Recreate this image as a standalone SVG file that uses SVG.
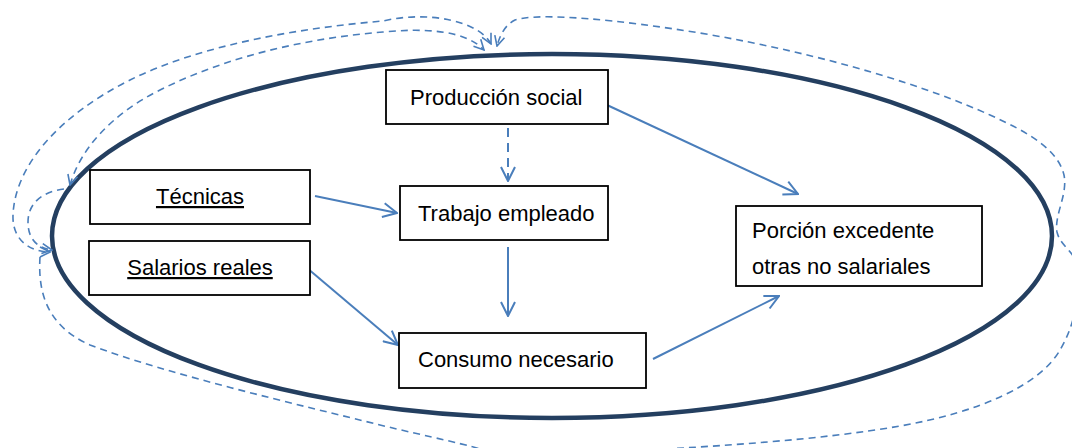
<svg xmlns="http://www.w3.org/2000/svg" width="1072" height="448" viewBox="0 0 1072 448">
<style>
.box{fill:#fff;stroke:#000;stroke-width:1.8}
.t{font-family:"Liberation Sans",Arial,sans-serif;font-size:22px;fill:#000}
.u{text-decoration:underline}
.s{fill:none;stroke:#4a7ebb;stroke-width:2}
.d{fill:none;stroke:#4a7ebb;stroke-width:1.6;stroke-dasharray:7 5}
</style>
<defs>
<marker id="a" viewBox="0 0 16 16" refX="15" refY="8" markerWidth="16" markerHeight="16" markerUnits="userSpaceOnUse" orient="auto">
<path d="M1,1 L15,8 L1,15" fill="none" stroke="#4a7ebb" stroke-width="2"/>
</marker>
<marker id="b" viewBox="0 0 12 12" refX="11" refY="6" markerWidth="12" markerHeight="12" markerUnits="userSpaceOnUse" orient="auto-start-reverse">
<path d="M1,1 L11,6 L1,11" fill="none" stroke="#4a7ebb" stroke-width="1.6"/>
</marker>
</defs>
<ellipse id="ring" cx="552" cy="236" rx="500" ry="182" fill="none" stroke="#243f60" stroke-width="4.5"/>
<g id="connectors">
<line class="s" x1="607" y1="105" x2="798" y2="194" marker-end="url(#a)"/>
<line class="s" x1="315" y1="196" x2="397" y2="213" marker-end="url(#a)"/>
<line class="s" x1="508" y1="247" x2="508" y2="316" marker-end="url(#a)"/>
<line class="s" x1="307" y1="268" x2="398" y2="345" marker-end="url(#a)"/>
<line class="s" x1="653" y1="359" x2="779" y2="296" marker-end="url(#a)"/>
<line class="s" x1="508" y1="128" x2="508" y2="181" stroke-dasharray="9 6" marker-end="url(#a)"/>
<path class="d" d="M491 44 C480 22,430 10,383 21 C300 28,200 45,130 80 C60 115,15 165,13 215 C12 240,30 252,50 252" marker-start="url(#b)" marker-end="url(#b)"/>
<path class="d" d="M70 185 C80 150,110 115,160 90 C230 55,310 38,383 32 C425 28,465 30,484 50" marker-start="url(#b)" marker-end="url(#b)"/>
<path class="d" d="M64 189 C40 192,28 205,28 222 C28 240,38 248,52 250" marker-end="url(#b)"/>
<path class="d" d="M40 257 C38 290,45 325,90 345 C170 375,300 405,380 425 C430 437,470 445,490 452"/>
<path class="d" d="M617 452 C720 446,820 440,900 426 C980 412,1040 385,1060 350 C1075 325,1082 290,1076 262 C1072 250,1060 245,1057 232 C1054 215,1068 195,1064 175 C1058 150,1030 133,990 115 C930 88,830 55,700 33 C620 20,540 12,515 20 C505 25,500 35,497 46" marker-end="url(#b)"/>
</g>
<g id="produccion"><rect class="box" x="386" y="70" width="222" height="54"/><text class="t" x="410" y="105">Producción social</text></g>
<g id="tecnicas"><rect class="box" x="90" y="170" width="220" height="54"/><text class="t u" x="200" y="204" text-anchor="middle">Técnicas</text></g>
<g id="salarios"><rect class="box" x="89" y="241" width="221" height="54"/><text class="t u" x="200" y="275" text-anchor="middle">Salarios reales</text></g>
<g id="trabajo"><rect class="box" x="400" y="186" width="208" height="54"/><text class="t" x="418" y="221">Trabajo empleado</text></g>
<g id="consumo"><rect class="box" x="399" y="333" width="247" height="55"/><text class="t" x="418" y="367">Consumo necesario</text></g>
<g id="porcion"><rect class="box" x="736" y="206" width="246" height="80"/><text class="t" x="752" y="238">Porción excedente</text><text class="t" x="752" y="274">otras no salariales</text></g>
</svg>
